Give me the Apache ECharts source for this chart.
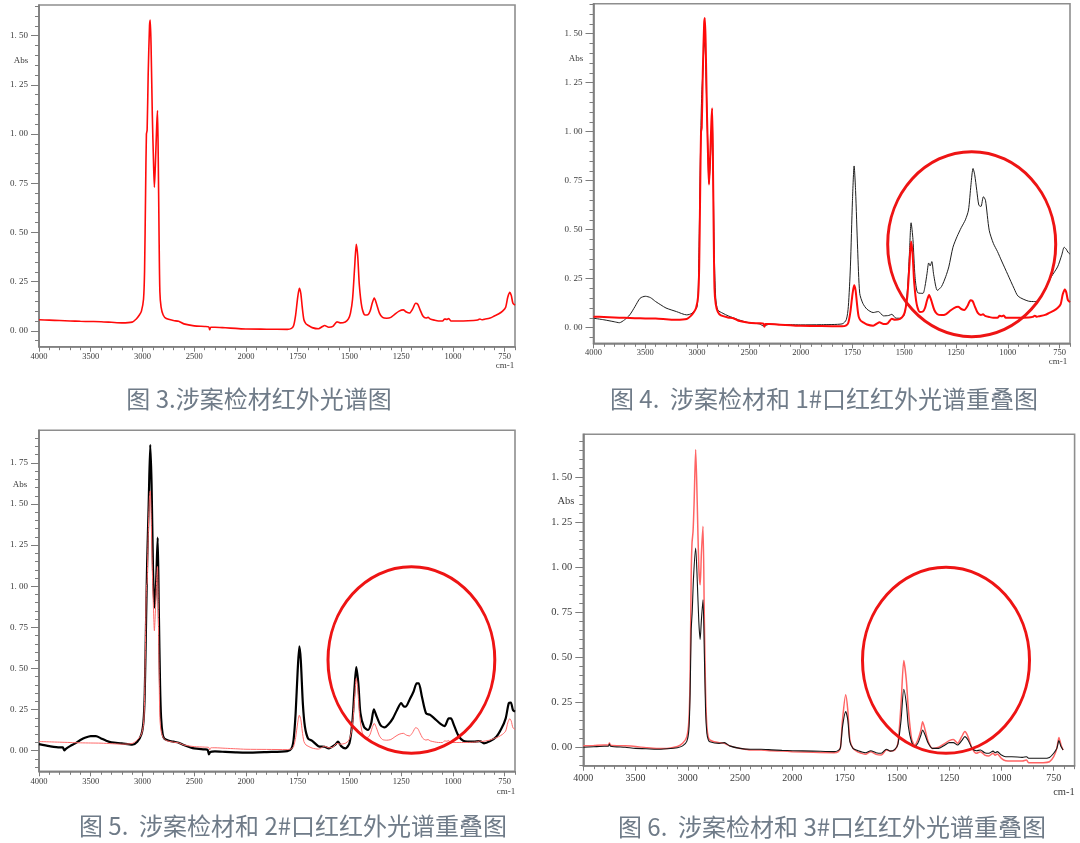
<!DOCTYPE html>
<html><head><meta charset="utf-8">
<script src="https://cdn.jsdelivr.net/npm/echarts@6/dist/echarts.min.js"></script>
<style>html,body{margin:0;padding:0;background:#fff}#c{width:1080px;height:843px}</style>
</head><body><div id="c"></div>
<script>
// ---------------- DATA ----------------
// 涉案检材 (sample) spectrum, wavenumber (cm-1) and absorbance
const WN_SAMPLE = [4000,3900,3800,3700,3600,3500,3400,3300,3200,3100,3060,3030,3010,2990,2980,2970,2962,2955,2945,2932,2925,2917,2905,2893,2885,2875,2862,2855,2848,2840,2832,2820,2800,2770,2700,2650,2600,2500,2400,2360,2350,2340,2300,2200,2100,2000,1900,1800,1780,1770,1760,1750,1742,1735,1728,1720,1710,1700,1680,1650,1630,1620,1600,1580,1560,1545,1520,1505,1495,1485,1475,1467,1460,1452,1440,1425,1410,1400,1390,1380,1370,1355,1340,1320,1300,1280,1260,1240,1225,1210,1195,1180,1170,1160,1145,1130,1120,1110,1090,1070,1050,1040,1030,1020,1010,990,950,900,880,870,860,850,820,800,780,760,745,735,725,718,710,700];
const ABS_SAMPLE = [0.056,0.054,0.052,0.05,0.048,0.047,0.046,0.043,0.04,0.044,0.06,0.08,0.1,0.16,0.3,0.7,1.0,1.02,1.3,1.55,1.58,1.45,1.1,0.85,0.73,0.85,1.05,1.12,0.9,0.5,0.2,0.12,0.08,0.062,0.052,0.048,0.035,0.025,0.022,0.02,0.005,0.018,0.018,0.015,0.012,0.009,0.008,0.007,0.012,0.025,0.08,0.17,0.216,0.19,0.12,0.056,0.035,0.028,0.016,0.01,0.022,0.027,0.018,0.022,0.045,0.04,0.045,0.06,0.09,0.16,0.32,0.44,0.38,0.23,0.12,0.08,0.082,0.1,0.14,0.166,0.14,0.09,0.068,0.064,0.068,0.085,0.1,0.106,0.095,0.09,0.11,0.14,0.135,0.11,0.075,0.065,0.068,0.06,0.054,0.05,0.05,0.06,0.058,0.062,0.05,0.05,0.05,0.052,0.055,0.06,0.056,0.058,0.065,0.075,0.085,0.1,0.12,0.17,0.195,0.18,0.14,0.13];

// 1#口红
const WN_LIP1 = [4000,3900,3800,3750,3700,3650,3600,3550,3500,3450,3400,3350,3300,3200,3100,3050,3000,2985,2970,2960,2955,2945,2935,2925,2915,2900,2885,2870,2855,2845,2835,2820,2800,2750,2700,2650,2600,2500,2400,2355,2300,2200,2100,2000,1900,1800,1780,1770,1760,1750,1742,1735,1725,1715,1700,1680,1650,1625,1600,1575,1560,1540,1520,1500,1485,1475,1467,1458,1448,1435,1410,1400,1390,1382,1375,1367,1358,1340,1320,1300,1285,1265,1245,1225,1205,1190,1178,1168,1160,1150,1140,1130,1118,1108,1090,1070,1050,1030,1000,970,950,900,870,850,820,790,760,740,728,718,710,700];
const ABS_LIP1 = [0.048,0.04,0.03,0.025,0.04,0.065,0.107,0.15,0.16,0.153,0.133,0.116,0.1,0.082,0.065,0.073,0.107,0.3,0.8,1.1,1.19,1.3,1.42,1.46,1.3,1.0,0.74,0.88,1.08,0.8,0.4,0.15,0.09,0.073,0.06,0.05,0.04,0.025,0.019,0.008,0.018,0.016,0.015,0.014,0.015,0.019,0.04,0.107,0.31,0.65,0.825,0.7,0.4,0.175,0.124,0.094,0.077,0.082,0.06,0.062,0.068,0.048,0.048,0.065,0.19,0.38,0.535,0.45,0.26,0.178,0.175,0.21,0.277,0.33,0.315,0.337,0.27,0.19,0.21,0.26,0.31,0.41,0.465,0.51,0.55,0.6,0.73,0.812,0.78,0.7,0.625,0.618,0.668,0.65,0.497,0.43,0.388,0.34,0.27,0.2,0.16,0.135,0.133,0.14,0.2,0.26,0.31,0.37,0.41,0.4,0.385,0.375];

// 2#口红
const WN_LIP2 = [4000,3900,3800,3770,3755,3740,3700,3650,3600,3550,3500,3450,3400,3350,3300,3200,3100,3050,3010,2990,2978,2965,2955,2940,2925,2912,2898,2885,2870,2853,2842,2830,2820,2805,2790,2750,2700,2650,2600,2500,2400,2370,2358,2345,2300,2200,2100,2000,1900,1800,1780,1770,1760,1750,1742,1735,1725,1715,1700,1680,1650,1620,1600,1570,1555,1540,1520,1500,1485,1475,1467,1457,1447,1430,1410,1395,1382,1368,1350,1330,1310,1290,1270,1250,1238,1228,1210,1190,1175,1165,1150,1130,1110,1090,1060,1040,1020,1010,995,975,950,900,870,850,820,790,765,745,730,720,710,700];
const ABS_LIP2 = [0.04,0.028,0.02,0.02,0.002,0.012,0.028,0.045,0.065,0.08,0.089,0.089,0.075,0.061,0.051,0.045,0.037,0.055,0.1,0.18,0.35,0.8,1.14,1.5,1.86,1.62,1.1,0.87,1.0,1.295,0.85,0.4,0.2,0.1,0.075,0.062,0.055,0.049,0.035,0.014,0.008,0.005,-0.022,-0.008,-0.004,-0.007,-0.01,-0.012,-0.008,-0.002,0.014,0.065,0.228,0.49,0.634,0.55,0.285,0.146,0.075,0.06,0.028,0.024,0.014,0.035,0.055,0.028,0.014,0.045,0.187,0.39,0.508,0.41,0.228,0.146,0.126,0.167,0.252,0.207,0.156,0.142,0.163,0.197,0.248,0.289,0.27,0.268,0.309,0.36,0.41,0.41,0.33,0.228,0.218,0.197,0.163,0.15,0.197,0.197,0.156,0.095,0.061,0.055,0.059,0.045,0.059,0.085,0.136,0.197,0.289,0.293,0.248,0.238];

// 涉案检材 (figure 6 version)
const WN_SAMPLE_B = [4000,3900,3800,3760,3750,3740,3600,3500,3400,3300,3200,3100,3050,3010,2990,2978,2968,2960,2950,2940,2925,2910,2895,2882,2870,2855,2842,2830,2818,2805,2790,2750,2700,2650,2600,2500,2400,2300,2200,2100,2000,1900,1800,1780,1770,1760,1745,1735,1725,1710,1690,1670,1650,1625,1600,1575,1550,1530,1510,1495,1480,1467,1455,1445,1430,1415,1400,1385,1377,1365,1350,1330,1300,1270,1250,1230,1210,1190,1175,1160,1140,1120,1100,1080,1060,1040,1030,1020,1000,980,950,900,880,870,850,800,770,750,735,725,715,705];
const ABS_SAMPLE_B = [0.01,0.012,0.015,0.014,0.026,0.014,0.01,0.006,0.0,-0.004,-0.004,0.006,0.024,0.06,0.15,0.4,0.95,1.135,1.2,1.357,1.654,1.357,1.0,0.904,1.08,1.228,0.71,0.3,0.12,0.06,0.043,0.033,0.028,0.024,0.01,-0.004,-0.013,-0.013,-0.017,-0.019,-0.022,-0.026,-0.028,-0.022,0.0,0.154,0.293,0.21,0.043,-0.004,-0.022,-0.031,-0.037,-0.022,-0.037,-0.041,-0.013,-0.019,-0.013,0.024,0.246,0.483,0.376,0.21,0.052,0.015,0.043,0.098,0.144,0.098,0.033,-0.004,0.002,0.024,0.039,0.046,0.024,0.061,0.089,0.061,-0.004,-0.031,-0.022,-0.041,-0.046,-0.031,-0.042,-0.035,-0.059,-0.072,-0.074,-0.074,-0.069,-0.083,-0.083,-0.083,-0.078,-0.05,-0.004,0.057,0.015,-0.013];

// 3#口红
const WN_LIP3 = [4000,3900,3800,3760,3750,3740,3600,3500,3400,3300,3200,3100,3050,3010,2990,2978,2968,2958,2945,2925,2910,2895,2882,2870,2855,2842,2830,2818,2805,2790,2700,2650,2600,2500,2400,2300,2200,2100,2000,1900,1800,1780,1770,1760,1745,1735,1725,1710,1690,1650,1625,1600,1575,1550,1530,1510,1495,1480,1467,1455,1445,1430,1415,1400,1385,1377,1365,1350,1330,1300,1270,1250,1230,1210,1190,1175,1160,1140,1120,1100,1080,1060,1040,1030,1020,1000,980,950,900,880,870,850,800,770,750,735,725,715,705];
const ABS_LIP3 = [0.002,0.005,0.008,0.008,0.02,0.008,0.002,-0.004,-0.006,-0.009,-0.006,0.0,0.01,0.035,0.1,0.3,0.65,0.756,0.95,1.107,0.93,0.7,0.6,0.71,0.82,0.52,0.2,0.08,0.045,0.033,0.024,0.028,0.01,-0.004,-0.009,-0.009,-0.012,-0.015,-0.017,-0.019,-0.022,-0.015,0.0,0.117,0.2,0.154,0.033,-0.004,-0.015,-0.028,-0.017,-0.028,-0.031,-0.009,-0.019,-0.009,0.02,0.154,0.324,0.246,0.117,0.033,0.006,0.024,0.07,0.098,0.07,0.024,-0.004,-0.004,0.015,0.028,0.028,0.015,0.039,0.061,0.043,-0.004,-0.017,-0.013,-0.028,-0.031,-0.019,-0.028,-0.022,-0.041,-0.05,-0.05,-0.054,-0.05,-0.059,-0.059,-0.059,-0.054,-0.031,-0.004,0.039,0.006,-0.013];

// tick labels
const X_TICKS = [4000,3500,3000,2500,2000,1750,1500,1250,1000,750];
const Y_TICKS_A = [0,0.25,0.5,0.75,1.0,1.25,1.5];
const Y_TICKS_B = [0,0.25,0.5,0.75,1.0,1.25,1.5,1.75];

const CAPTIONS = ['图 3.涉案检材红外光谱图','图 4.  涉案检材和 1#口红红外光谱重叠图','图 5.  涉案检材和 2#口红红外光谱重叠图','图 6.  涉案检材和 3#口红红外光谱重叠图'];

// ---------------- AXIS TRANSFORM (spectrometer scale: x2 expansion below 2000 cm-1) ----------------
function toU(w){ return w <= 2000 ? w : 2000 + (w - 2000) / 2; }
function fromU(u){ return u <= 2000 ? u : 2000 + (u - 2000) * 2; }
function pairs(wn, ab){ return wn.map((w,i)=>[toU(w), ab[i]]); }
function range(a,b,s){ const r=[]; for(let v=a; v<=b+1e-9; v+=s) r.push(Math.round(v*1000)/1000); return r; }

// panel layouts (pixels)
const P = [
  {left:39, top:5, width:476, height:341.7, ymin:-0.081, ymax:1.656, xmin:700, yt:Y_TICKS_A, fs:9, xm:5.5},
  {left:593.5, top:3.7, width:476.5, height:339.6, ymin:-0.08, ymax:1.653, xmin:700, yt:Y_TICKS_A, fs:9, xm:5},
  {left:39, top:430.3, width:476, height:341, ymin:-0.125, ymax:1.948, xmin:700, yt:Y_TICKS_B, fs:9, xm:5.5},
  {left:583.3, top:434.3, width:491.3, height:331.4, ymin:-0.1, ymax:1.738, xmin:650, yt:Y_TICKS_A, fs:10.5, xm:8}
];

const grid=[], xAxis=[], yAxis=[];
const AX = '#7d7d7d', LBL = '#3a3a3a', FONT = 'Liberation Serif';
P.forEach((p,i)=>{
  grid.push({left:p.left, top:p.top, width:p.width, height:p.height, show:true, borderColor:'#8e8e8e', borderWidth:1.6, backgroundColor:'transparent'});
  const xMajor = X_TICKS.map(toU);
  xAxis.push({gridIndex:i, type:'value', inverse:true, min:p.xmin, max:3000, position:'bottom',
    axisLine:{show:true, onZero:false, lineStyle:{color:AX, width:1.6}},
    axisTick:{show:true, customValues:xMajor, length:5, lineStyle:{color:AX, width:1}},
    axisLabel:{show:true, customValues:xMajor, margin:p.xm, fontFamily:FONT, fontSize:p.fs-0.5, color:LBL, formatter:v=>String(Math.round(fromU(v)))},
    splitLine:{show:false}});
  xAxis.push({gridIndex:i, type:'value', inverse:true, min:p.xmin, max:3000, position:'bottom',
    axisLine:{show:false, onZero:false},
    axisTick:{show:true, customValues:range(Math.ceil(p.xmin/50)*50, 3000, 50), length:3.5, lineStyle:{color:AX, width:1}},
    axisLabel:{show:false}, splitLine:{show:false}});
  yAxis.push({gridIndex:i, type:'value', min:p.ymin, max:p.ymax, position:'left',
    axisLine:{show:true, onZero:false, lineStyle:{color:AX, width:1.6}},
    axisTick:{show:true, customValues:p.yt, length:8, lineStyle:{color:AX, width:1}},
    axisLabel:{show:true, customValues:p.yt, margin:11, fontFamily:FONT, fontSize:p.fs, color:LBL, formatter:v=>v.toFixed(2).replace('.', '. ')},
    splitLine:{show:false}});
  yAxis.push({gridIndex:i, type:'value', min:p.ymin, max:p.ymax, position:'left',
    axisLine:{show:false, onZero:false},
    axisTick:{show:true, customValues:range(Math.ceil(p.ymin/0.05)*0.05, p.ymax, 0.05), length:4, lineStyle:{color:AX, width:1}},
    axisLabel:{show:false}, splitLine:{show:false}});
});

function line(name, gi, data, color, width, z){
  return {name, type:'line', xAxisIndex:gi*2, yAxisIndex:gi*2, data, showSymbol:false, symbol:'none',
    smooth:0.25, lineStyle:{color, width}, z:z||2, animation:false, silent:true};
}
const series = [
  line('涉案检材', 0, pairs(WN_SAMPLE, ABS_SAMPLE), '#ff0a0a', 1.6),
  line('1#口红', 1, pairs(WN_LIP1, ABS_LIP1), '#1e1e1e', 1, 2),
  line('涉案检材', 1, pairs(WN_SAMPLE, ABS_SAMPLE), '#ff0a0a', 2, 3),
  line('2#口红', 2, pairs(WN_LIP2, ABS_LIP2), '#000000', 2.2, 2),
  line('涉案检材', 2, pairs(WN_SAMPLE, ABS_SAMPLE), '#ff6a6a', 1, 3),
  line('涉案检材', 3, pairs(WN_SAMPLE_B, ABS_SAMPLE_B), '#ff6464', 1.5, 2),
  line('3#口红', 3, pairs(WN_LIP3, ABS_LIP3), '#151515', 1.1, 3)
];

function txt(x, y, text, font, fill){
  return {type:'text', x, y, z:10, style:{text, font, fill, align:'center', verticalAlign:'middle', textAlign:'center', textVerticalAlign:'middle'}};
}
function ell(cx, cy, rx, ry){
  return {type:'ellipse', z:10, shape:{cx, cy, rx, ry}, style:{fill:'none', stroke:'#ee1414', lineWidth:3}};
}
const capFont = '24px "Noto Sans CJK SC"';
const capColor = '#6f7b88';
const graphic = [
  txt(259, 399, CAPTIONS[0], capFont, capColor),
  txt(824, 399, CAPTIONS[1], capFont, capColor),
  txt(293, 826, CAPTIONS[2], capFont, capColor),
  txt(832, 827, CAPTIONS[3], capFont, capColor),
  txt(21, 61, 'Abs', '9px "Liberation Serif"', LBL),
  txt(576, 59, 'Abs', '9px "Liberation Serif"', LBL),
  txt(20, 485, 'Abs', '9px "Liberation Serif"', LBL),
  txt(566, 501, 'Abs', '10.5px "Liberation Serif"', LBL),
  txt(505, 366, 'cm-1', '9px "Liberation Serif"', LBL),
  txt(1058, 362, 'cm-1', '9px "Liberation Serif"', LBL),
  txt(506, 792, 'cm-1', '9px "Liberation Serif"', LBL),
  txt(1064, 792, 'cm-1', '10.5px "Liberation Serif"', LBL),
  ell(971.7, 244.2, 84, 92.5),
  ell(411.4, 660, 83.4, 93.3),
  ell(946, 660.3, 83.5, 93)
];

const chart = echarts.init(document.getElementById('c'), null, {renderer:'canvas'});
chart.setOption({backgroundColor:'#ffffff', animation:false, grid, xAxis, yAxis, series, graphic});
</script></body></html>
